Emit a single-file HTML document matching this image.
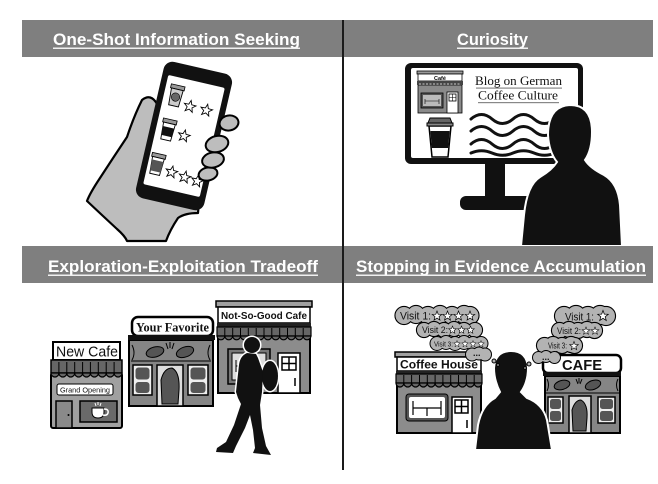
<!DOCTYPE html>
<html><head><meta charset="utf-8"><style>
html,body{margin:0;padding:0;background:#fff;}
svg{display:block;}
</style></head><body>
<svg width="658" height="484" viewBox="0 0 658 484" xmlns="http://www.w3.org/2000/svg" style="font-family:'Liberation Sans',sans-serif">
<rect width="658" height="484" fill="#fff"/>

<!-- ========== PANEL 1: phone & hand ========== -->
<path d="M157 104 Q151 93 142 100 Q134 116 127 137 Q113 158 100 178 Q90 193 87 201 Q104 217 117 229 Q125 236 127 241 L166 241 Q170 230 178 218 Q185 213 198 213 L200 190 L150 190 Z" fill="#bdbdbd" stroke="#000" stroke-width="2.2" stroke-linejoin="round"/>
<g transform="translate(184 136) rotate(13)">
  <rect x="-35" y="-70" width="70" height="140" rx="9" fill="#111"/>
  <rect x="-29" y="-56" width="58" height="112" rx="2" fill="#fff"/>
  <g transform="translate(-17 -37)">
    <rect x="-7" y="-11" width="14" height="4" fill="#999" stroke="#000" stroke-width="0.8"/>
    <path d="M-6 -7 L6 -7 L5 10 L-5 10 Z" fill="#ccc" stroke="#000" stroke-width="0.9"/>
    <circle cx="0" cy="1" r="4.2" fill="#666" stroke="#000" stroke-width="0.6"/>
  </g>
  <g transform="translate(-17 -2)">
    <rect x="-7" y="-11" width="14" height="4" fill="#999" stroke="#000" stroke-width="0.8"/>
    <path d="M-6 -7 L6 -7 L5 10 L-5 10 Z" fill="#fff" stroke="#000" stroke-width="0.9"/>
    <path d="M-5.8 -3 L5.8 -3 L5.3 6 L-5.3 6 Z" fill="#111"/>
  </g>
  <g transform="translate(-20 34)">
    <rect x="-7" y="-11" width="14" height="4" fill="#999" stroke="#000" stroke-width="0.8"/>
    <path d="M-6 -7 L6 -7 L5 10 L-5 10 Z" fill="#fff" stroke="#000" stroke-width="0.9"/>
    <path d="M-5.8 -4 L5.8 -4 L5.3 7 L-5.3 7 Z" fill="#555"/>
  </g>
  <g fill="#fff" stroke="#000" stroke-width="0.7">
    <path transform="translate(-1 -30) scale(1.25)" d="M0,-5L1.23,-1.7L4.76,-1.55L2,0.65L2.94,4.05L0,2.1L-2.94,4.05L-2,0.65L-4.76,-1.55L-1.23,-1.7Z"/>
    <path transform="translate(16 -30) scale(1.25)" d="M0,-5L1.23,-1.7L4.76,-1.55L2,0.65L2.94,4.05L0,2.1L-2.94,4.05L-2,0.65L-4.76,-1.55L-1.23,-1.7Z"/>
    <path transform="translate(0 0) scale(1.25)" d="M0,-5L1.23,-1.7L4.76,-1.55L2,0.65L2.94,4.05L0,2.1L-2.94,4.05L-2,0.65L-4.76,-1.55L-1.23,-1.7Z"/>
    <path transform="translate(-4 38) scale(1.25)" d="M0,-5L1.23,-1.7L4.76,-1.55L2,0.65L2.94,4.05L0,2.1L-2.94,4.05L-2,0.65L-4.76,-1.55L-1.23,-1.7Z"/>
    <path transform="translate(10 40) scale(1.25)" d="M0,-5L1.23,-1.7L4.76,-1.55L2,0.65L2.94,4.05L0,2.1L-2.94,4.05L-2,0.65L-4.76,-1.55L-1.23,-1.7Z"/>
    <path transform="translate(23 41) scale(1.25)" d="M0,-5L1.23,-1.7L4.76,-1.55L2,0.65L2.94,4.05L0,2.1L-2.94,4.05L-2,0.65L-4.76,-1.55L-1.23,-1.7Z"/>
  </g>
</g>
<g fill="#bdbdbd" stroke="#000" stroke-width="2">
  <ellipse cx="208" cy="174" rx="9.5" ry="6.5" transform="rotate(-12 208 174)"/>
  <ellipse cx="213" cy="160" rx="11" ry="7.5" transform="rotate(-12 213 160)"/>
  <ellipse cx="217" cy="144" rx="11.5" ry="8" transform="rotate(-15 217 144)"/>
  <ellipse cx="229" cy="123" rx="9.5" ry="7.5" transform="rotate(-10 229 123)"/>
</g>

<!-- ========== PANEL 2: Curiosity ========== -->
<rect x="405" y="63" width="178" height="101" rx="6" fill="#111"/>
<rect x="411" y="68" width="167" height="90" rx="2" fill="#fff"/>
<rect x="485" y="163" width="20" height="38" fill="#111"/>
<rect x="460" y="196" width="110" height="14" rx="6" fill="#111"/>
<rect x="418" y="85" width="44" height="28" fill="#8a8a8a" stroke="#000" stroke-width="0.8"/>
<rect x="417" y="71" width="46" height="3" fill="#999" stroke="#000" stroke-width="0.8"/>
<rect x="418" y="74" width="44" height="7" fill="#fff" stroke="#000" stroke-width="0.8"/>
<text x="434" y="79.8" font-size="5.5" font-weight="bold">Café</text>
<rect x="417" y="81" width="46" height="4" fill="#444"/>
<path d="M419 84 h42" stroke="#ccc" stroke-width="1" stroke-dasharray="2 1.5"/>
<rect x="421" y="93" width="22" height="15" fill="#555" stroke="#000" stroke-width="0.8"/>
<rect x="423" y="95" width="18" height="11" fill="#bbb"/>
<path d="M425 99 v5 M425 101 h14 M439 99 v5" stroke="#000" stroke-width="0.6" fill="none"/>
<rect x="447" y="92" width="11" height="21" fill="#fff" stroke="#000" stroke-width="0.8"/>
<rect x="449" y="94" width="7" height="7" fill="#fff" stroke="#000" stroke-width="0.8"/>
<path d="M452.5 94 v7 M449 97.5 h7" stroke="#000" stroke-width="0.6"/>
<path d="M429 126 L451 126 L448 157 L432 157 Z" fill="#fff" stroke="#000" stroke-width="1.5"/>
<path d="M430.4 131 L449.6 131 L448.2 148 L431.8 148 Z" fill="#111"/>
<path d="M430 118 L450 118 L452 123 L428 123 Z" fill="#666" stroke="#000" stroke-width="1"/>
<rect x="427" y="123" width="26" height="3" fill="#888" stroke="#000" stroke-width="1"/>
<text x="475" y="85" style="font-family:'Liberation Serif',serif" font-size="13" textLength="87" lengthAdjust="spacingAndGlyphs" fill="#111">Blog on German</text>
<rect x="476" y="87.5" width="86" height="1.2" fill="#888"/>
<text x="478" y="99.5" style="font-family:'Liberation Serif',serif" font-size="13" textLength="80" lengthAdjust="spacingAndGlyphs" fill="#111">Coffee Culture</text>
<rect x="478" y="102" width="81" height="1.2" fill="#888"/>
<g fill="none" stroke="#111" stroke-width="3" stroke-linecap="round">
  <path d="M471,119 c7,-6 14,-6 21,0 s14,6 21,0 s14,-6 21,0 s14,6 21,0"/>
  <path d="M471,131 c7,-6 14,-6 21,0 s14,6 21,0 s14,-6 21,0 s14,6 21,0"/>
  <path d="M471,144 c7,-6 14,-6 21,0 s14,6 21,0 s14,-6 21,0 s14,6 21,0"/>
  <path d="M471,153 c7,-3 14,-3 21,0 s14,3 21,0 s14,-3 21,0 s14,3 21,0"/>
</g>
<path d="M521 246 L524 215 Q527 185 540 177 Q552 170 557 162 Q549 152 548 135 Q548 106 570 105 Q592 105 592 132 Q592 150 585 160 Q590 168 604 175 Q618 183 620 205 L622 246 Z" fill="#111" stroke="#fff" stroke-width="2"/>

<!-- ========== PANEL 3: shops ========== -->
<rect x="51" y="373" width="71" height="55" rx="2" fill="#a0a0a0" stroke="#000" stroke-width="2"/>
<rect x="53" y="342" width="67" height="18" fill="#fff" stroke="#000" stroke-width="2"/>
<text x="56" y="356.5" font-size="15" textLength="62" lengthAdjust="spacingAndGlyphs" fill="#111">New Cafe</text>
<rect x="51" y="360" width="71" height="13" fill="#666" stroke="#000" stroke-width="1.5"/>
<path d="M51 373 a3.94 4 0 0 0 7.89 0 a3.94 4 0 0 0 7.89 0 a3.94 4 0 0 0 7.89 0 a3.94 4 0 0 0 7.89 0 a3.94 4 0 0 0 7.89 0 a3.94 4 0 0 0 7.89 0 a3.94 4 0 0 0 7.89 0 a3.94 4 0 0 0 7.89 0 a3.94 4 0 0 0 7.89 0 Z" fill="#666" stroke="#000" stroke-width="1.2"/>
<path d="M58.9 362V373M66.8 362V373M74.7 362V373M82.6 362V373M90.4 362V373M98.3 362V373M106.2 362V373M114.1 362V373" stroke="#000" stroke-width="1"/>
<rect x="57" y="384" width="56" height="11" rx="2" fill="#fff" stroke="#000" stroke-width="1"/>
<text x="60" y="392.5" font-size="7.5" textLength="50" lengthAdjust="spacingAndGlyphs" fill="#111">Grand Opening</text>
<rect x="56" y="401" width="16" height="27" fill="#8a8a8a" stroke="#000" stroke-width="1.5"/>
<circle cx="68.5" cy="415" r="1" fill="#000"/>
<rect x="80" y="401" width="37" height="21" fill="#6a6a6a" stroke="#000" stroke-width="1.5"/>
<path d="M92 408 h12 v4 q0 6 -6 6 q-6 0 -6 -6 z" fill="#fff" stroke="#000" stroke-width="1"/>
<path d="M104 409 q5 0 4 4 q-1 3 -5 2" fill="none" stroke="#fff" stroke-width="1.5"/>
<path d="M95 403 l1 3 M98 402 v3 M101 403 l-1 3" stroke="#fff" stroke-width="1"/>

<rect x="129" y="340" width="84" height="66" fill="#858585" stroke="#000" stroke-width="2"/>
<rect x="132" y="317" width="81" height="19" rx="6" fill="#fff" stroke="#000" stroke-width="2.5"/>
<rect x="128" y="335" width="87" height="5" fill="#111"/>
<text x="136" y="331.5" style="font-family:'Liberation Serif',serif" font-size="13" font-weight="bold" textLength="73" lengthAdjust="spacingAndGlyphs" fill="#111">Your Favorite</text>
<ellipse cx="155" cy="352" rx="9" ry="5" transform="rotate(-15 155 352)" fill="#555" stroke="#000" stroke-width="1"/>
<ellipse cx="185" cy="352" rx="9" ry="5" transform="rotate(-20 185 352)" fill="#555" stroke="#000" stroke-width="1"/>
<path d="M132 345 q4 8 0 15 M210 345 q-4 8 0 15 M131 361 L211 361 M166 343 l2 6 M170 342 v6 M174 343 l-2 6" stroke="#000" stroke-width="1" fill="none"/>
<rect x="133" y="365" width="19" height="30" fill="#eee" stroke="#000" stroke-width="1.5"/>
<rect x="135.5" y="367.5" width="14" height="12" rx="3" fill="#555"/>
<rect x="135.5" y="382" width="14" height="11" rx="3" fill="#555"/>
<rect x="157" y="365" width="26" height="41" fill="#ddd" stroke="#000" stroke-width="1.5"/>
<path d="M162 404 L161 380 Q164 368 172 368 Q180 372 179 390 L178 404 Z" fill="#555" stroke="#000" stroke-width="1"/>
<rect x="188" y="365" width="20" height="30" fill="#eee" stroke="#000" stroke-width="1.5"/>
<rect x="190.5" y="367.5" width="15" height="12" rx="3" fill="#555"/>
<rect x="190.5" y="382" width="15" height="11" rx="3" fill="#555"/>

<rect x="218" y="327" width="92" height="66" fill="#8c8c8c" stroke="#000" stroke-width="2"/>
<rect x="216" y="301" width="96" height="6" fill="#a0a0a0" stroke="#000" stroke-width="1.5"/>
<rect x="218" y="307" width="92" height="16" fill="#fff" stroke="#000" stroke-width="1.5"/>
<text x="221" y="319" font-size="10.5" font-weight="bold" textLength="86" lengthAdjust="spacingAndGlyphs" fill="#111">Not-So-Good Cafe</text>
<rect x="217" y="323" width="94" height="4" fill="#222"/>
<rect x="217" y="327" width="94" height="9" fill="#666" stroke="#000" stroke-width="1.2"/>
<path d="M217 336 a3.92 4 0 0 0 7.83 0 a3.92 4 0 0 0 7.83 0 a3.92 4 0 0 0 7.83 0 a3.92 4 0 0 0 7.83 0 a3.92 4 0 0 0 7.83 0 a3.92 4 0 0 0 7.83 0 a3.92 4 0 0 0 7.83 0 a3.92 4 0 0 0 7.83 0 a3.92 4 0 0 0 7.83 0 a3.92 4 0 0 0 7.83 0 a3.92 4 0 0 0 7.83 0 a3.92 4 0 0 0 7.83 0 Z" fill="#666" stroke="#000" stroke-width="1.2"/>
<path d="M224.8 328V336M232.7 328V336M240.5 328V336M248.3 328V336M256.2 328V336M264 328V336M271.8 328V336M279.7 328V336M287.5 328V336M295.3 328V336M303.2 328V336" stroke="#000" stroke-width="1"/>
<rect x="228" y="349" width="42" height="35" fill="#777" stroke="#000" stroke-width="1.5"/>
<rect x="232" y="353" width="34" height="27" fill="#ddd" stroke="#000" stroke-width="1"/>
<path d="M236 360 v12 M236 366 h8" stroke="#000" stroke-width="1"/>
<rect x="278" y="353" width="22" height="40" fill="#fff" stroke="#000" stroke-width="1.5"/>
<rect x="282" y="357" width="14" height="13" fill="#fff" stroke="#000" stroke-width="1.5"/>
<path d="M289 357 v13 M282 363.5 h14 M295 378 v8" stroke="#000" stroke-width="1.5"/>

<g fill="#fff" stroke="#fff" stroke-width="3" stroke-linejoin="round">
  <circle cx="252" cy="345" r="8"/>
  <ellipse cx="270" cy="376" rx="8" ry="15"/>
  <path d="M247 353 Q240 356 239 365 L236 392 L238 398 L241 404 L234 425 L226 442 L217 448 L216 452 L233 453 L236 446 L245 428 L250 415 L253 430 L255 448 L253 453 L271 455 L266 446 L262 428 L260 405 L262 392 L263 372 L258 358 L256 354 Z"/>
</g>
<g fill="#111">
  <circle cx="252" cy="345" r="8"/>
  <ellipse cx="270" cy="376" rx="8" ry="15"/>
  <path d="M247 353 Q240 356 239 365 L236 392 L238 398 L241 404 L234 425 L226 442 L217 448 L216 452 L233 453 L236 446 L245 428 L250 415 L253 430 L255 448 L253 453 L271 455 L266 446 L262 428 L260 405 L262 392 L263 372 L258 358 L256 354 Z"/>
</g>

<!-- ========== PANEL 4 ========== -->
<rect x="397" y="374" width="84" height="59" fill="#8c8c8c" stroke="#000" stroke-width="2"/>
<rect x="395" y="352" width="88" height="5" fill="#a0a0a0" stroke="#000" stroke-width="1.5"/>
<rect x="397" y="357" width="84" height="14" fill="#fff" stroke="#000" stroke-width="1.5"/>
<text x="400" y="368.5" font-size="12" font-weight="bold" textLength="78" lengthAdjust="spacingAndGlyphs" fill="#111">Coffee House</text>
<rect x="396" y="371" width="86" height="3" fill="#222"/>
<rect x="396" y="374" width="86" height="9" fill="#666" stroke="#000" stroke-width="1.2"/>
<path d="M396 383 a3.91 4 0 0 0 7.82 0 a3.91 4 0 0 0 7.82 0 a3.91 4 0 0 0 7.82 0 a3.91 4 0 0 0 7.82 0 a3.91 4 0 0 0 7.82 0 a3.91 4 0 0 0 7.82 0 a3.91 4 0 0 0 7.82 0 a3.91 4 0 0 0 7.82 0 a3.91 4 0 0 0 7.82 0 a3.91 4 0 0 0 7.82 0 a3.91 4 0 0 0 7.82 0 Z" fill="#666" stroke="#000" stroke-width="1.2"/>
<path d="M403.8 375V383M411.6 375V383M419.5 375V383M427.3 375V383M435.1 375V383M442.9 375V383M450.7 375V383M458.5 375V383M466.4 375V383M474.2 375V383" stroke="#000" stroke-width="1"/>
<rect x="406" y="394" width="42" height="27" rx="3" fill="#555" stroke="#000" stroke-width="1"/>
<rect x="409" y="397" width="36" height="21" rx="2" fill="#fff"/>
<path d="M413 401 v14 M413 408 h28 M441 401 v14 M427 408 v8" stroke="#000" stroke-width="1.2" fill="none"/>
<rect x="452" y="397" width="20" height="36" fill="#fff" stroke="#000" stroke-width="1.5"/>
<rect x="455" y="400" width="13" height="13" fill="#fff" stroke="#000" stroke-width="1.5"/>
<path d="M461.5 400 v13 M455 406.5 h13 M467 420 v8" stroke="#000" stroke-width="1.5"/>

<rect x="545" y="376" width="75" height="57" fill="#858585" stroke="#000" stroke-width="2"/>
<rect x="543" y="355" width="78" height="18" rx="5" fill="#fff" stroke="#000" stroke-width="2.5"/>
<text x="562" y="370" font-size="15" font-weight="bold" textLength="40" lengthAdjust="spacingAndGlyphs" fill="#111">CAFE</text>
<rect x="543" y="372" width="78" height="4" fill="#111"/>
<ellipse cx="562" cy="385" rx="8" ry="4.5" transform="rotate(-15 562 385)" fill="#555" stroke="#000" stroke-width="1"/>
<ellipse cx="593" cy="385" rx="8" ry="4.5" transform="rotate(-20 593 385)" fill="#555" stroke="#000" stroke-width="1"/>
<path d="M547 379 q3 6 0 12 M618 379 q-3 6 0 12 M546 393 L619 393 M576 379 l2 5 M579 378 v5 M582 379 l-2 5" stroke="#000" stroke-width="1" fill="none"/>
<rect x="548" y="397" width="15" height="26" fill="#eee" stroke="#000" stroke-width="1.5"/>
<rect x="550" y="399" width="11" height="10" rx="2.5" fill="#555"/>
<rect x="550" y="411" width="11" height="10" rx="2.5" fill="#555"/>
<rect x="569" y="396" width="22" height="37" fill="#ddd" stroke="#000" stroke-width="1.5"/>
<path d="M573 431 L572 410 Q575 400 581 400 Q588 404 587 418 L586 431 Z" fill="#555" stroke="#000" stroke-width="1"/>
<rect x="598" y="397" width="17" height="26" fill="#eee" stroke="#000" stroke-width="1.5"/>
<rect x="600" y="399" width="13" height="10" rx="2.5" fill="#555"/>
<rect x="600" y="411" width="13" height="10" rx="2.5" fill="#555"/>

<path d="M475 450 L478 425 Q482 405 495 398 L500 392 Q494 380 494 368 Q495 351 511 351 Q527 351 528 368 Q528 382 521 392 L527 398 Q543 404 547 420 L552 450 Z" fill="#111" stroke="#fff" stroke-width="2"/>

<g stroke="#000" stroke-width="2.2" fill="#b3b3b3"><circle cx="404" cy="315.5" r="8.5"/><circle cx="416" cy="314.5" r="8.5"/><circle cx="428" cy="315.5" r="8.5"/><circle cx="440" cy="314.5" r="8.5"/><circle cx="452" cy="315.5" r="8.5"/><circle cx="464" cy="314.5" r="8.5"/><circle cx="470" cy="315.5" r="8.5"/></g>
<g fill="#b3b3b3"><circle cx="404" cy="315.5" r="8.5"/><circle cx="416" cy="314.5" r="8.5"/><circle cx="428" cy="315.5" r="8.5"/><circle cx="440" cy="314.5" r="8.5"/><circle cx="452" cy="315.5" r="8.5"/><circle cx="464" cy="314.5" r="8.5"/><circle cx="470" cy="315.5" r="8.5"/></g>
<g stroke="#000" stroke-width="2.2" fill="#b3b3b3"><circle cx="424" cy="330" r="7"/><circle cx="434" cy="329" r="7"/><circle cx="444" cy="330" r="7"/><circle cx="454" cy="329" r="7"/><circle cx="464" cy="330" r="7"/><circle cx="475" cy="330" r="7"/></g>
<g fill="#b3b3b3"><circle cx="424" cy="330" r="7"/><circle cx="434" cy="329" r="7"/><circle cx="444" cy="330" r="7"/><circle cx="454" cy="329" r="7"/><circle cx="464" cy="330" r="7"/><circle cx="475" cy="330" r="7"/></g>
<g stroke="#000" stroke-width="2" fill="#b3b3b3"><circle cx="437" cy="343.5" r="6.5"/><circle cx="446" cy="342.5" r="6.5"/><circle cx="455" cy="343.5" r="6.5"/><circle cx="464" cy="342.5" r="6.5"/><circle cx="473" cy="343.5" r="6.5"/><circle cx="481" cy="343.5" r="6.5"/></g>
<g fill="#b3b3b3"><circle cx="437" cy="343.5" r="6.5"/><circle cx="446" cy="342.5" r="6.5"/><circle cx="455" cy="343.5" r="6.5"/><circle cx="464" cy="342.5" r="6.5"/><circle cx="473" cy="343.5" r="6.5"/><circle cx="481" cy="343.5" r="6.5"/></g>
<g stroke="#000" stroke-width="2" fill="#b3b3b3"><circle cx="472" cy="354.5" r="6"/><circle cx="479" cy="353.5" r="6"/><circle cx="485" cy="354.5" r="6"/></g>
<g fill="#b3b3b3"><circle cx="472" cy="354.5" r="6"/><circle cx="479" cy="353.5" r="6"/><circle cx="485" cy="354.5" r="6"/></g>
<circle cx="494" cy="361" r="2" fill="#b3b3b3" stroke="#000" stroke-width="1"/>
<circle cx="498" cy="365" r="1.3" fill="#b3b3b3" stroke="#000" stroke-width="0.8"/>

<g stroke="#000" stroke-width="2.2" fill="#b3b3b3"><circle cx="564" cy="316" r="9"/><circle cx="576" cy="315" r="9"/><circle cx="588" cy="316" r="9"/><circle cx="600" cy="315" r="9"/><circle cx="606" cy="316" r="9"/></g>
<g fill="#b3b3b3"><circle cx="564" cy="316" r="9"/><circle cx="576" cy="315" r="9"/><circle cx="588" cy="316" r="9"/><circle cx="600" cy="315" r="9"/><circle cx="606" cy="316" r="9"/></g>
<g stroke="#000" stroke-width="2.2" fill="#b3b3b3"><circle cx="559.5" cy="330.5" r="7.5"/><circle cx="569" cy="329.5" r="7.5"/><circle cx="578" cy="330.5" r="7.5"/><circle cx="587" cy="329.5" r="7.5"/><circle cx="594.5" cy="330.5" r="7.5"/></g>
<g fill="#b3b3b3"><circle cx="559.5" cy="330.5" r="7.5"/><circle cx="569" cy="329.5" r="7.5"/><circle cx="578" cy="330.5" r="7.5"/><circle cx="587" cy="329.5" r="7.5"/><circle cx="594.5" cy="330.5" r="7.5"/></g>
<g stroke="#000" stroke-width="2.2" fill="#b3b3b3"><circle cx="544.5" cy="345.5" r="7.5"/><circle cx="553" cy="344.5" r="7.5"/><circle cx="562" cy="345.5" r="7.5"/><circle cx="571" cy="344.5" r="7.5"/><circle cx="574.5" cy="345.5" r="7.5"/></g>
<g fill="#b3b3b3"><circle cx="544.5" cy="345.5" r="7.5"/><circle cx="553" cy="344.5" r="7.5"/><circle cx="562" cy="345.5" r="7.5"/><circle cx="571" cy="344.5" r="7.5"/><circle cx="574.5" cy="345.5" r="7.5"/></g>
<g stroke="#000" stroke-width="2" fill="#b3b3b3"><circle cx="538.5" cy="357.5" r="5.5"/><circle cx="546" cy="356.5" r="5.5"/><circle cx="554.5" cy="357.5" r="5.5"/></g>
<g fill="#b3b3b3"><circle cx="538.5" cy="357.5" r="5.5"/><circle cx="546" cy="356.5" r="5.5"/><circle cx="554.5" cy="357.5" r="5.5"/></g>
<circle cx="529" cy="364" r="2" fill="#b3b3b3" stroke="#000" stroke-width="1"/>
<circle cx="525" cy="368" r="1.3" fill="#b3b3b3" stroke="#000" stroke-width="0.8"/>

<g fill="#111">
  <text x="400" y="319.5" font-size="11" textLength="31" lengthAdjust="spacingAndGlyphs">Visit 1:</text>
  <text x="422" y="333" font-size="9" textLength="26" lengthAdjust="spacingAndGlyphs">Visit 2:</text>
  <text x="434" y="346.5" font-size="7" textLength="19" lengthAdjust="spacingAndGlyphs">Visit 3:</text>
  <text x="473" y="356" font-size="9" font-weight="bold">...</text>
  <text x="565" y="320.5" font-size="11" textLength="29" lengthAdjust="spacingAndGlyphs">Visit 1:</text>
  <text x="557" y="334" font-size="9" textLength="24" lengthAdjust="spacingAndGlyphs">Visit 2:</text>
  <text x="548" y="348.5" font-size="8" textLength="19" lengthAdjust="spacingAndGlyphs">Visit 3:</text>
  <text x="542" y="360" font-size="9" font-weight="bold">...</text>
</g>
<g fill="#fff" stroke="#000" stroke-width="0.7">
  <path transform="translate(437 316)" d="M0,-5L1.23,-1.7L4.76,-1.55L2,0.65L2.94,4.05L0,2.1L-2.94,4.05L-2,0.65L-4.76,-1.55L-1.23,-1.7Z"/>
  <path transform="translate(447.5 316)" d="M0,-5L1.23,-1.7L4.76,-1.55L2,0.65L2.94,4.05L0,2.1L-2.94,4.05L-2,0.65L-4.76,-1.55L-1.23,-1.7Z"/>
  <path transform="translate(458.5 316)" d="M0,-5L1.23,-1.7L4.76,-1.55L2,0.65L2.94,4.05L0,2.1L-2.94,4.05L-2,0.65L-4.76,-1.55L-1.23,-1.7Z"/>
  <path transform="translate(470 316)" d="M0,-5L1.23,-1.7L4.76,-1.55L2,0.65L2.94,4.05L0,2.1L-2.94,4.05L-2,0.65L-4.76,-1.55L-1.23,-1.7Z"/>
  <path transform="translate(452.5 330) scale(0.8)" d="M0,-5L1.23,-1.7L4.76,-1.55L2,0.65L2.94,4.05L0,2.1L-2.94,4.05L-2,0.65L-4.76,-1.55L-1.23,-1.7Z"/>
  <path transform="translate(461.5 330) scale(0.8)" d="M0,-5L1.23,-1.7L4.76,-1.55L2,0.65L2.94,4.05L0,2.1L-2.94,4.05L-2,0.65L-4.76,-1.55L-1.23,-1.7Z"/>
  <path transform="translate(470.5 330) scale(0.8)" d="M0,-5L1.23,-1.7L4.76,-1.55L2,0.65L2.94,4.05L0,2.1L-2.94,4.05L-2,0.65L-4.76,-1.55L-1.23,-1.7Z"/>
  <path transform="translate(457 344) scale(0.7)" d="M0,-5L1.23,-1.7L4.76,-1.55L2,0.65L2.94,4.05L0,2.1L-2.94,4.05L-2,0.65L-4.76,-1.55L-1.23,-1.7Z"/>
  <path transform="translate(465 344) scale(0.7)" d="M0,-5L1.23,-1.7L4.76,-1.55L2,0.65L2.94,4.05L0,2.1L-2.94,4.05L-2,0.65L-4.76,-1.55L-1.23,-1.7Z"/>
  <path transform="translate(473 344) scale(0.7)" d="M0,-5L1.23,-1.7L4.76,-1.55L2,0.65L2.94,4.05L0,2.1L-2.94,4.05L-2,0.65L-4.76,-1.55L-1.23,-1.7Z"/>
  <path transform="translate(481 344) scale(0.7)" d="M0,-5L1.23,-1.7L4.76,-1.55L2,0.65L2.94,4.05L0,2.1L-2.94,4.05L-2,0.65L-4.76,-1.55L-1.23,-1.7Z"/>
  <path transform="translate(603 316) scale(1.1)" d="M0,-5L1.23,-1.7L4.76,-1.55L2,0.65L2.94,4.05L0,2.1L-2.94,4.05L-2,0.65L-4.76,-1.55L-1.23,-1.7Z"/>
  <path transform="translate(586 331) scale(0.8)" d="M0,-5L1.23,-1.7L4.76,-1.55L2,0.65L2.94,4.05L0,2.1L-2.94,4.05L-2,0.65L-4.76,-1.55L-1.23,-1.7Z"/>
  <path transform="translate(595 331) scale(0.8)" d="M0,-5L1.23,-1.7L4.76,-1.55L2,0.65L2.94,4.05L0,2.1L-2.94,4.05L-2,0.65L-4.76,-1.55L-1.23,-1.7Z"/>
  <path transform="translate(574 346) scale(0.9)" d="M0,-5L1.23,-1.7L4.76,-1.55L2,0.65L2.94,4.05L0,2.1L-2.94,4.05L-2,0.65L-4.76,-1.55L-1.23,-1.7Z"/>
</g>

<!-- header bars & divider -->
<rect x="22" y="20" width="631" height="37" fill="#7f7f7f"/>
<rect x="22" y="246" width="631" height="37" fill="#7f7f7f"/>
<line x1="343" y1="20" x2="343" y2="470" stroke="#1a1a1a" stroke-width="2"/>
<g fill="#fff" font-weight="bold" font-size="17">
  <text x="53" y="45" textLength="247" lengthAdjust="spacingAndGlyphs">One-Shot Information Seeking</text>
  <text x="457" y="45" textLength="71" lengthAdjust="spacingAndGlyphs">Curiosity</text>
  <text x="48" y="272" textLength="270" lengthAdjust="spacingAndGlyphs">Exploration-Exploitation Tradeoff</text>
  <text x="356" y="272" textLength="290" lengthAdjust="spacingAndGlyphs">Stopping in Evidence Accumulation</text>
</g>
<g fill="#f0f0f0">
  <rect x="53" y="47.5" width="247" height="1.5"/>
  <rect x="457" y="47.5" width="71" height="1.5"/>
  <rect x="48" y="274.5" width="270" height="1.5"/>
  <rect x="356" y="274.5" width="290" height="1.5"/>
</g>
</svg>
</body></html>
